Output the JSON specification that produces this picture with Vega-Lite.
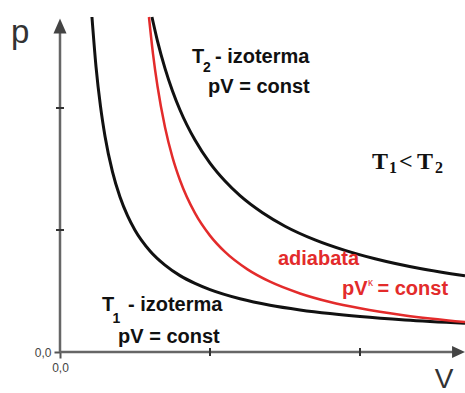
{
  "$schema": "https://vega.github.io/schema/vega-lite/v6.json",
  "width": 405,
  "height": 335,
  "autosize": {"type": "none"},
  "padding": {"left": 60, "top": 17, "right": 0, "bottom": 41},
  "background": "white",
  "config": {"view": {"stroke": null}, "axis": {"grid": false, "domain": false}},
  "datasets": {
    "curves": [
      {"curve": "T1", "V": 0.213, "p": 2.746},
      {"curve": "T1", "V": 0.24, "p": 2.34},
      {"curve": "T1", "V": 0.27, "p": 2.013},
      {"curve": "T1", "V": 0.3, "p": 1.769},
      {"curve": "T1", "V": 0.35, "p": 1.476},
      {"curve": "T1", "V": 0.4, "p": 1.27},
      {"curve": "T1", "V": 0.45, "p": 1.117},
      {"curve": "T1", "V": 0.5, "p": 0.998},
      {"curve": "T1", "V": 0.6, "p": 0.828},
      {"curve": "T1", "V": 0.7, "p": 0.712},
      {"curve": "T1", "V": 0.8, "p": 0.626},
      {"curve": "T1", "V": 0.9, "p": 0.562},
      {"curve": "T1", "V": 1.0, "p": 0.511},
      {"curve": "T1", "V": 1.2, "p": 0.436},
      {"curve": "T1", "V": 1.4, "p": 0.383},
      {"curve": "T1", "V": 1.6, "p": 0.345},
      {"curve": "T1", "V": 1.8, "p": 0.315},
      {"curve": "T1", "V": 2.0, "p": 0.291},
      {"curve": "T1", "V": 2.3, "p": 0.263},
      {"curve": "T1", "V": 2.7, "p": 0.236},
      {"curve": "T2", "V": 0.613, "p": 2.746},
      {"curve": "T2", "V": 0.65, "p": 2.549},
      {"curve": "T2", "V": 0.7, "p": 2.325},
      {"curve": "T2", "V": 0.75, "p": 2.14},
      {"curve": "T2", "V": 0.8, "p": 1.984},
      {"curve": "T2", "V": 0.9, "p": 1.737},
      {"curve": "T2", "V": 1.0, "p": 1.548},
      {"curve": "T2", "V": 1.1, "p": 1.401},
      {"curve": "T2", "V": 1.2, "p": 1.281},
      {"curve": "T2", "V": 1.35, "p": 1.141},
      {"curve": "T2", "V": 1.5, "p": 1.031},
      {"curve": "T2", "V": 1.7, "p": 0.919},
      {"curve": "T2", "V": 1.9, "p": 0.833},
      {"curve": "T2", "V": 2.1, "p": 0.764},
      {"curve": "T2", "V": 2.4, "p": 0.684},
      {"curve": "T2", "V": 2.7, "p": 0.624}
    ],
    "adiabat": [
      {"V": 0.593, "p": 2.746},
      {"V": 0.62, "p": 2.444},
      {"V": 0.65, "p": 2.178},
      {"V": 0.7, "p": 1.843},
      {"V": 0.75, "p": 1.596},
      {"V": 0.8, "p": 1.408},
      {"V": 0.9, "p": 1.138},
      {"V": 1.0, "p": 0.954},
      {"V": 1.1, "p": 0.82},
      {"V": 1.25, "p": 0.677},
      {"V": 1.4, "p": 0.576},
      {"V": 1.6, "p": 0.48},
      {"V": 1.8, "p": 0.41},
      {"V": 2.0, "p": 0.358},
      {"V": 2.3, "p": 0.3},
      {"V": 2.7, "p": 0.246}
    ]
  },
  "encoding": {
    "x": {"field": "V", "type": "quantitative", "scale": {"domain": [0, 2.7], "nice": false, "zero": false},
      "axis": {"values": [0], "labelExpr": "'0,0'", "title": null, "tickSize": 6, "tickWidth": 2, "tickColor": "#555", "labelFont": "Liberation Sans", "labelFontSize": 12, "labelColor": "#444", "labelPadding": 4, "labelFlush": false}},
    "y": {"field": "p", "type": "quantitative", "scale": {"domain": [0, 2.746], "nice": false, "zero": false},
      "axis": {"values": [0], "labelExpr": "'0,0'", "title": null, "tickSize": 6, "tickWidth": 2, "tickColor": "#555", "labelFont": "Liberation Sans", "labelFontSize": 12, "labelColor": "#444", "labelPadding": 3, "labelFlush": false}}
  },
  "layer": [
    {
      "data": {"values": [{"V": 0, "p": 0, "V2": 0, "p2": 2.66}, {"V": 0, "p": 0, "V2": 2.65, "p2": 0}]},
      "mark": {"type": "rule", "color": "#666", "strokeWidth": 2.5},
      "encoding": {"x2": {"field": "V2"}, "y2": {"field": "p2"}}
    },
    {
      "data": {"values": [{"V": 1, "p": 0}, {"V": 2, "p": 0}]},
      "mark": {"type": "tick", "orient": "vertical", "size": 8, "thickness": 2, "color": "#333", "opacity": 1}
    },
    {
      "data": {"values": [{"V": 0, "p": 1}, {"V": 0, "p": 2}]},
      "mark": {"type": "tick", "orient": "horizontal", "size": 8, "thickness": 2, "color": "#333", "opacity": 1}
    },
    {
      "data": {"values": [{"V": 0, "p": 2.672}]},
      "mark": {"type": "point", "shape": "M0,-1L-0.87,1L0.87,1Z", "size": 225, "filled": true, "color": "#444", "opacity": 1}
    },
    {
      "data": {"values": [{"V": 2.657, "p": 0}]},
      "mark": {"type": "point", "shape": "M1,0L-1,-0.92L-1,0.92Z", "size": 169, "filled": true, "color": "#444", "opacity": 1}
    },
    {
      "data": {"name": "curves"},
      "mark": {"type": "line", "color": "#111", "strokeWidth": 3, "interpolate": "monotone"},
      "encoding": {"detail": {"field": "curve"}}
    },
    {
      "data": {"name": "adiabat"},
      "mark": {"type": "line", "color": "#e32b2b", "strokeWidth": 2.5, "interpolate": "monotone"}
    },
    {
      "data": {"values": [
        {"V": 0.88, "p": 2.369, "t": "T"},
        {"V": 1.033, "p": 2.369, "t": "- izoterma"},
        {"V": 0.987, "p": 2.123, "t": "pV = const"},
        {"V": 0.28, "p": 0.336, "t": "T"},
        {"V": 0.453, "p": 0.336, "t": "- izoterma"},
        {"V": 0.387, "p": 0.074, "t": "pV = const"}
      ]},
      "mark": {"type": "text", "align": "left", "baseline": "alphabetic", "font": "Liberation Sans", "fontWeight": "bold", "fontSize": 20, "color": "#111"},
      "encoding": {"text": {"field": "t"}}
    },
    {
      "data": {"values": [
        {"V": 0.953, "p": 2.295, "t": "2"},
        {"V": 0.35, "p": 0.238, "t": "1"}
      ]},
      "mark": {"type": "text", "align": "left", "baseline": "alphabetic", "font": "Liberation Sans", "fontWeight": "bold", "fontSize": 14, "color": "#111"},
      "encoding": {"text": {"field": "t"}}
    },
    {
      "data": {"values": [
        {"V": 1.453, "p": 0.713, "t": "adiabata"},
        {"V": 1.88, "p": 0.467, "t": "pV"}
      ]},
      "mark": {"type": "text", "align": "left", "baseline": "alphabetic", "font": "Liberation Sans", "fontWeight": "bold", "fontSize": 20, "color": "#e32b2b"},
      "encoding": {"text": {"field": "t"}}
    },
    {
      "data": {"values": [
        {"V": 2.587, "p": 0.467, "t": "= const"}
      ]},
      "mark": {"type": "text", "align": "right", "baseline": "alphabetic", "font": "Liberation Sans", "fontWeight": "bold", "fontSize": 20, "color": "#e32b2b"},
      "encoding": {"text": {"field": "t"}}
    },
    {
      "data": {"values": [
        {"V": 2.053, "p": 0.541, "t": "κ"}
      ]},
      "mark": {"type": "text", "align": "left", "baseline": "alphabetic", "font": "Liberation Sans", "fontSize": 10, "color": "#e32b2b"},
      "encoding": {"text": {"field": "t"}}
    },
    {
      "data": {"values": [
        {"V": 2.08, "p": 1.5, "t": "T"},
        {"V": 2.26, "p": 1.5, "t": "<"},
        {"V": 2.38, "p": 1.5, "t": "T"}
      ]},
      "mark": {"type": "text", "align": "left", "baseline": "alphabetic", "font": "Liberation Serif", "fontWeight": "bold", "fontSize": 24, "color": "#111"},
      "encoding": {"text": {"field": "t"}}
    },
    {
      "data": {"values": [
        {"V": 2.193, "p": 1.467, "t": "1"},
        {"V": 2.5, "p": 1.467, "t": "2"}
      ]},
      "mark": {"type": "text", "align": "left", "baseline": "alphabetic", "font": "Liberation Serif", "fontWeight": "bold", "fontSize": 16, "color": "#111"},
      "encoding": {"text": {"field": "t"}}
    },
    {
      "data": {"values": [
        {"V": -0.327, "p": 2.533, "t": "p"}
      ]},
      "mark": {"type": "text", "align": "left", "baseline": "alphabetic", "font": "Liberation Sans", "fontSize": 33, "color": "#333"},
      "encoding": {"text": {"field": "t"}}
    },
    {
      "data": {"values": [
        {"V": 2.56, "p": -0.295, "t": "V"}
      ]},
      "mark": {"type": "text", "align": "center", "baseline": "alphabetic", "font": "Liberation Sans", "fontSize": 28, "color": "#333"},
      "encoding": {"text": {"field": "t"}}
    }
  ]
}
